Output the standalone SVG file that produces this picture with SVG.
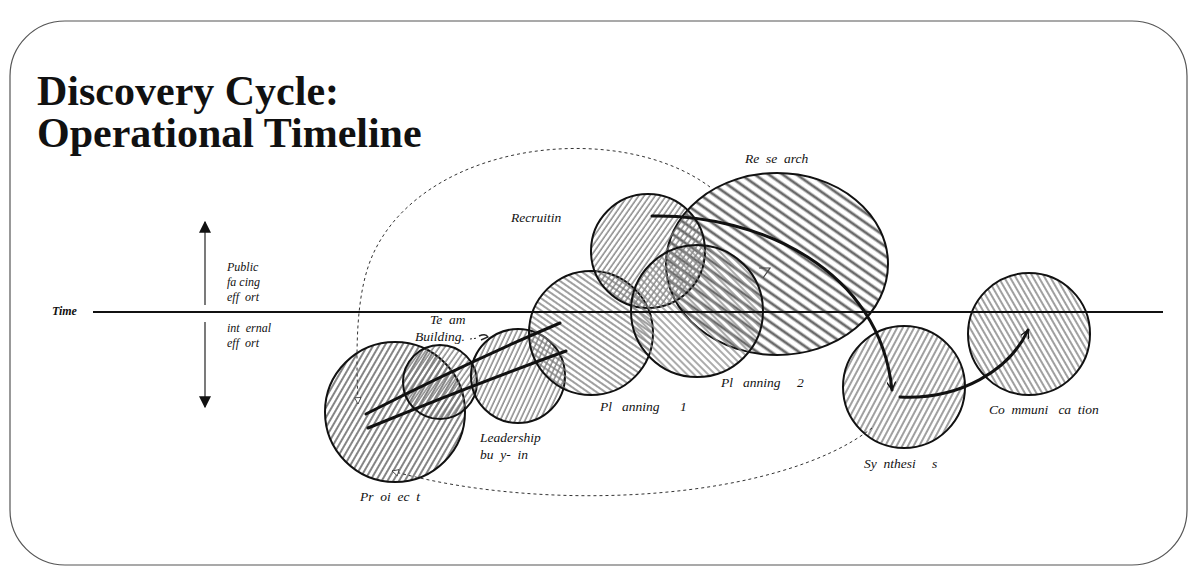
<svg xmlns="http://www.w3.org/2000/svg" width="1200" height="584" viewBox="0 0 1200 584" xml:space="preserve">
<style>
.frame{fill:#fff;stroke:#555;stroke-width:1.2}
.title{font-family:"Liberation Serif",serif;font-weight:bold;font-size:42px;fill:#111}
.lbl{font-family:"Liberation Serif",serif;font-style:italic;font-size:13.5px;fill:#111;white-space:pre}
.sm{font-family:"Liberation Serif",serif;font-style:italic;font-size:12px;fill:#111;white-space:pre}
.node{stroke:#111;stroke-width:2}
.thick{fill:none;stroke:#111;stroke-width:3;stroke-linecap:round}
.dash{fill:none;stroke:#333;stroke-width:1;stroke-dasharray:3 3}
.axis{stroke:#111;stroke-width:1.8}
</style>
<defs>
<pattern id="hA" patternUnits="userSpaceOnUse" width="5" height="5" patternTransform="rotate(30)"><line x1="1" y1="0" x2="1" y2="5" stroke="#666" stroke-width="1.6"/></pattern>
<pattern id="hB" patternUnits="userSpaceOnUse" width="4.5" height="4.5" patternTransform="rotate(35)"><line x1="1" y1="0" x2="1" y2="4.5" stroke="#777" stroke-width="1.3"/></pattern>
<pattern id="hC" patternUnits="userSpaceOnUse" width="4.5" height="4.5" patternTransform="rotate(25)"><line x1="1" y1="0" x2="1" y2="4.5" stroke="#777" stroke-width="1.3"/></pattern>
<pattern id="hD" patternUnits="userSpaceOnUse" width="5" height="5" patternTransform="rotate(-55)"><line x1="1" y1="0" x2="1" y2="5" stroke="#777" stroke-width="1.4"/></pattern>
<pattern id="hE" patternUnits="userSpaceOnUse" width="4.5" height="4.5" patternTransform="rotate(35)"><line x1="1" y1="0" x2="1" y2="4.5" stroke="#777" stroke-width="1.3"/></pattern>
<pattern id="hF" patternUnits="userSpaceOnUse" width="5" height="5" patternTransform="rotate(-45)"><line x1="1" y1="0" x2="1" y2="5" stroke="#888" stroke-width="1.4"/></pattern>
<pattern id="hG" patternUnits="userSpaceOnUse" width="8" height="8" patternTransform="rotate(-55)"><line x1="2" y1="0" x2="2" y2="8" stroke="#6a6a6a" stroke-width="2.8"/></pattern>
<pattern id="hH" patternUnits="userSpaceOnUse" width="5" height="5" patternTransform="rotate(28)"><line x1="1" y1="0" x2="1" y2="5" stroke="#777" stroke-width="1.4"/></pattern>
<pattern id="hI" patternUnits="userSpaceOnUse" width="5" height="5" patternTransform="rotate(-30)"><line x1="1" y1="0" x2="1" y2="5" stroke="#777" stroke-width="1.4"/></pattern>
<marker id="vOpen" viewBox="0 0 10 10" refX="9" refY="5" markerWidth="9" markerHeight="9" orient="auto" markerUnits="userSpaceOnUse"><path d="M0,0 L9,5 L0,10" fill="none" stroke="#111" stroke-width="1.5"/></marker>
<marker id="triOpen" viewBox="0 0 10 10" refX="9" refY="5" markerWidth="8" markerHeight="8" orient="auto" markerUnits="userSpaceOnUse"><path d="M1,1 L9,5 L1,9 Z" fill="#fff" stroke="#333" stroke-width="1"/></marker>
<marker id="solid" viewBox="0 0 10 10" refX="9" refY="5" markerWidth="12" markerHeight="12" orient="auto" markerUnits="userSpaceOnUse"><path d="M0,0 L10,5 L0,10 Z" fill="#111"/></marker>
</defs>

<rect class="frame" x="10" y="21" width="1177" height="544" rx="55" ry="55"/>

<text class="title" x="37" y="105">Discovery Cycle:</text>
<text class="title" x="37" y="147">Operational Timeline</text>

<g id="axis">
<line class="axis" x1="93" y1="312" x2="1163" y2="312"/>
<text class="lbl" x="52" y="315" style="font-size:12px;font-weight:bold">Time</text>
<line x1="205" y1="305" x2="205" y2="222" stroke="#222" stroke-width="1.2" marker-end="url(#solid)"/>
<line x1="205" y1="322" x2="205" y2="407" stroke="#222" stroke-width="1.2" marker-end="url(#solid)"/>
<text class="sm" x="227" y="271">Public</text>
<text class="sm" x="227" y="286">fa cing</text>
<text class="sm" x="227" y="301">eff  ort</text>
<text class="sm" x="227" y="332">int  ernal</text>
<text class="sm" x="227" y="347">eff  ort</text>
</g>

<g id="research"><ellipse class="node" cx="777" cy="264" rx="111" ry="91" fill="url(#hG)"/><text class="lbl" x="745" y="163">Re  se  arch</text></g>
<g id="project"><circle class="node" cx="395" cy="412" r="70" fill="url(#hA)"/><text class="lbl" x="360" y="501">Pr  oi  ec  t</text></g>
<g id="team-building"><circle class="node" cx="440" cy="382" r="37" fill="url(#hB)"/><text class="lbl" x="430" y="324">Te  am</text><text class="lbl" x="415" y="341">Building.</text></g>
<g id="leadership"><circle class="node" cx="518" cy="376" r="47" fill="url(#hC)"/><text class="lbl" x="480" y="442">Leadership</text><text class="lbl" x="480" y="459">bu  y-  in</text></g>
<g id="planning-1"><circle class="node" cx="591" cy="333" r="62" fill="url(#hD)"/><text class="lbl" x="600" y="411">Pl   anning</text><text class="lbl" x="680" y="411">1</text></g>
<g id="recruiting"><circle class="node" cx="648" cy="251" r="57" fill="url(#hE)"/><text class="lbl" x="511" y="222">Recruitin</text></g>
<g id="planning-2"><circle class="node" cx="697" cy="311" r="66" fill="url(#hF)"/><text class="lbl" x="721" y="387">Pl   anning</text><text class="lbl" x="797" y="387">2</text></g>
<g id="synthesis"><circle class="node" cx="904" cy="387" r="61" fill="url(#hH)"/><text class="lbl" x="864" y="468">Sy  nthesi</text><text class="lbl" x="932" y="468">s</text></g>
<g id="communication"><circle class="node" cx="1029" cy="334" r="61" fill="url(#hI)"/><text class="lbl" x="989" y="414">Co  mmuni   ca  tion</text></g>

<line class="axis" x1="93" y1="312" x2="1163" y2="312"/>

<g id="connectors">
<path class="thick" d="M366 414 Q 468 362 560 323"/>
<path class="thick" d="M368 428 Q 470 386 566 351"/>
<path class="thick" d="M652 216 C 760 214, 880 270, 892 390" marker-end="url(#vOpen)"/>
<path class="thick" d="M900 397 C 960 400, 1010 370, 1028 330" marker-end="url(#vOpen)"/>
<path class="dash" d="M710 187 C 620 120, 430 140, 375 250 C 355 290, 356 350, 358 404" marker-end="url(#triOpen)"/>
<path class="dash" d="M872 428 C 780 500, 550 515, 392 471" marker-end="url(#triOpen)"/>
<path d="M470 339 L 478 338" fill="none" stroke="#222" stroke-width="1" stroke-dasharray="2 2"/>
<path d="M479 336 Q 486 333 488 337 L 481 340" fill="none" stroke="#222" stroke-width="1.4"/>
<path d="M759 268 L 770 268 L 763 278" fill="none" stroke="#444" stroke-width="1.2"/>
</g>
</svg>
